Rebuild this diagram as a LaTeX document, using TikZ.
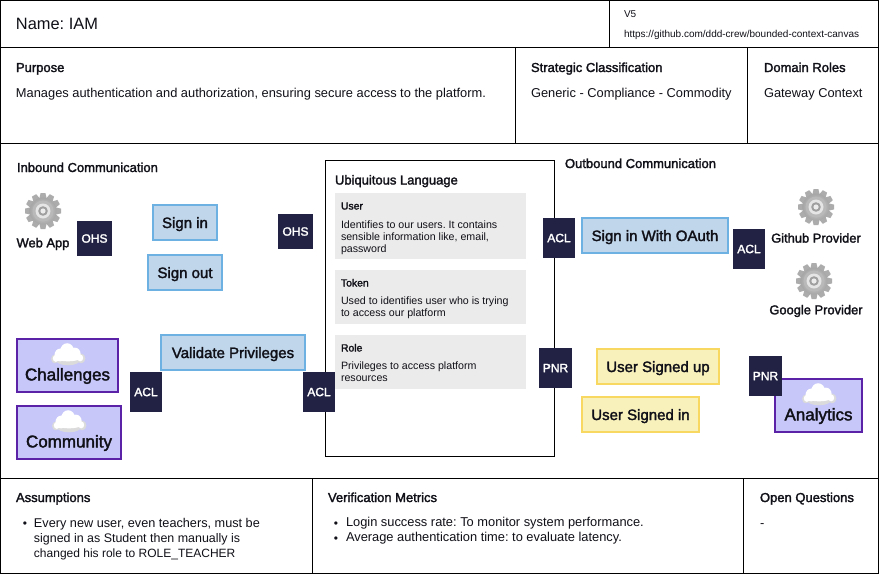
\documentclass[tikz,border=0pt]{standalone}
\usepackage{fontspec}
\setmainfont{Liberation Sans}
\newfontfamily\medfont[FakeBold=2]{Liberation Sans}
\definecolor{bluefill}{HTML}{C0D6EA}
\definecolor{blueline}{HTML}{6CB1E1}
\definecolor{yelfill}{HTML}{F9F1BC}
\definecolor{yelline}{HTML}{F9D862}
\definecolor{purfill}{HTML}{C7C7FA}
\definecolor{purline}{HTML}{5B21A6}
\definecolor{darkbox}{HTML}{222244}
\definecolor{cardgray}{HTML}{EBEBEB}
\definecolor{inkc}{HTML}{101018}
\newcommand{\fs}[2]{\frenchspacing\fontsize{#1}{#2}\selectfont}
\tikzset{
  x=1pt,y=-1pt,
  every node/.style={inner sep=0pt,outer sep=0pt,text=inkc},
  frame/.style={draw=black,line width=1pt},
  heading/.style={anchor=base west,font=\medfont\fs{13}{15}},
  plain/.style={anchor=base west,font=\fs{12.85}{15}},
  body/.style={anchor=north west,align=left,font=\fs{12.85}{15.2}},
  dot/.style={anchor=base,font=\fs{12}{12},text height=4,text depth=0},
  cardtitle/.style={anchor=base west,font=\medfont\fs{10.4}{13}},
  cardbody/.style={anchor=north west,align=left,font=\fs{10.65}{12}},
  card/.style={fill=cardgray,draw=none},
  tag/.style={fill=darkbox,draw=none,text=white,font=\medfont\fs{12}{14}},
  msgbox/.style={line width=2pt,font=\medfont\fs{15}{17},text height=12.5,text depth=1.5},
  bluebox/.style={msgbox,fill=bluefill,draw=blueline},
  yelbox/.style={msgbox,fill=yelfill,draw=yelline},
  purbox/.style={line width=2pt,fill=purfill,draw=purline},
  purlabel/.style={font=\medfont\fs{17}{19}},
  sysname/.style={font=\medfont\fs{12.9}{15}},
  pics/gear/.style={code={
    \foreach \a in {0,30,...,330}{
      \fill[rotate=\a,fill=#1] (-2.4,-18) -- (2.4,-18) -- (4,-11) -- (-4,-11) -- cycle;
    }
    \shade[inner color=gray!30,outer color=gray!70] (0,0) circle (13.5);
    \fill[gray!55] (0,0) circle (10.5);
    \fill[gray!20] (0,0) circle (7.5);
    \fill[gray!75] (0,0) circle (4.8);
    \fill[gray!15] (0,0) circle (2.6);
  }},
  pics/cloud/.style={code={
    \begin{scope}[xscale=0.87,yscale=0.98,yshift=-1pt]
    \fill[black!14] (-15,4) circle (4.5) (15,3.5) circle (5) (0,5) ellipse (14 and 5.5);
    \fill[white] (-9,0) circle (6.5) (-1,-4) circle (8) (8,-1) circle (6.5)
      (-14,3.5) circle (3.5) (14,3) circle (3.5) (0,3) ellipse (14 and 3.5);
    \end{scope}
  }}
}
\begin{document}
\begin{tikzpicture}
\useasboundingbox (0,0) rectangle (879,574);
\fill[white] (0,0) rectangle (879,574);
% frame
\draw[frame] (0.5,0.5) rectangle (878.5,573.5);
\draw[frame] (0,47.5) -- (879,47.5);
\draw[frame] (0,143.5) -- (879,143.5);
\draw[frame] (0,478.5) -- (879,478.5);
\draw[frame] (609.5,0) -- (609.5,47);
\draw[frame] (515.5,47) -- (515.5,143);
\draw[frame] (747.5,47) -- (747.5,143);
\draw[frame] (312.5,478) -- (312.5,574);
\draw[frame] (743.5,478) -- (743.5,574);
% header
\node[anchor=base west,font=\fs{16.4}{19}] (name) at (16,29.5) {Name: IAM};
\node[anchor=base west,font=\fs{10}{12}] (ver) at (624,17.5) {V5};
\node[anchor=base west,font=\fs{10}{12}] (url) at (624,37.5) {https://github.com/ddd-crew/bounded-context-canvas};
% row 2
\node[heading] (purpose) at (16,72) {Purpose};
\node[plain] (purposetxt) at (16,97) {Manages authentication and authorization, ensuring secure access to the platform.};
\node[heading] (strategic) at (531,72) {Strategic Classification};
\node[plain] (strategictxt) at (531,97) {Generic - Compliance - Commodity};
\node[heading] (roles) at (764,72) {Domain Roles};
\node[plain] (rolestxt) at (764,97) {Gateway Context};
% inbound
\node[heading] (inbound) at (17,172) {Inbound Communication};
\pic at (43,211) {gear=gray!65};
\node[sysname] (webapp) at (43,244) {Web App};
\node[tag,minimum width=35,minimum height=35] (ohsa) at (94.5,238.5) {OHS};
\node[tag,minimum width=35,minimum height=35] (ohsb) at (295.5,231.5) {OHS};
\node[bluebox,minimum width=64,minimum height=35] (signin) at (185,222.5) {Sign in};
\node[bluebox,minimum width=74,minimum height=35] (signout) at (185,272.5) {Sign out};
\node[bluebox,minimum width=144,minimum height=35] (validate) at (233,352.5) {Validate Privileges};
\node[purbox,minimum width=101,minimum height=53] (challengesbox) at (67.5,365.5) {};
\pic at (68,354) {cloud};
\node[purlabel] (challenges) at (67.5,376) {Challenges};
\node[purbox,minimum width=104,minimum height=53] (communitybox) at (69,432.5) {};
\pic at (69,421) {cloud};
\node[purlabel] (community) at (69,443) {Community};
\node[tag,minimum width=32,minimum height=40] (acla) at (146,392) {ACL};
% ubiquitous
\draw[frame] (325.5,160.5) rectangle (554.5,456.5);
\node[tag,minimum width=32,minimum height=40] (aclb) at (319,392) {ACL};
\node[anchor=base west,font=\medfont\fs{13}{15}] (ubi) at (335,184.5) {Ubiquitous Language};
\fill[card] (335,193) rectangle (526,259);
\fill[card] (335,270) rectangle (526,324);
\fill[card] (335,335) rectangle (526,389);
\node[cardtitle] (user) at (341,209.5) {User};
\node[cardbody] (usertxt) at (341,220.5) {Identifies to our users. It contains\\sensible information like, email,\\password};
\node[cardtitle] (token) at (341,286.5) {Token};
\node[cardbody] (tokentxt) at (341,297.2) {Used to identifies user who is trying\\to access our platform};
\node[cardtitle] (role) at (341,351.5) {Role};
\node[cardbody] (roletxt) at (341,362.2) {Privileges to access platform\\resources};
% outbound
\node[heading] (outbound) at (565,168) {Outbound Communication};
\node[tag,minimum width=32,minimum height=40] (aclc) at (559,238) {ACL};
\node[tag,minimum width=33,minimum height=40] (pnra) at (555.5,368) {PNR};
\node[bluebox,minimum width=146,minimum height=35] (oauth) at (655,235.5) {Sign in With OAuth};
\node[tag,minimum width=32,minimum height=40] (acld) at (749,249) {ACL};
\pic at (816,207) {gear=gray!65};
\node[sysname] (github) at (816,238) {Github Provider};
\pic at (814,281) {gear=gray!65};
\node[sysname] (google) at (816,311) {Google Provider};
\node[yelbox,minimum width=122,minimum height=35] (signedup) at (658,366.5) {User Signed up};
\node[yelbox,minimum width=117,minimum height=35] (signedin) at (640.5,414.5) {User Signed in};
\node[purbox,minimum width=87,minimum height=53] (analyticsbox) at (818.5,405.5) {};
\pic at (819,394) {cloud};
\node[purlabel] (analytics) at (818.5,416) {Analytics};
\node[tag,minimum width=33,minimum height=40] (pnrb) at (765.5,376) {PNR};
% bottom row
\node[heading] (assump) at (16,502) {Assumptions};
\node[dot] (bula) at (25,527.5) {•};
\node[body] (assumptxt) at (34,517.8) {\fontsize{12.7}{15.2}\selectfont Every new user, even teachers, must be\\\fontsize{12.44}{15.2}\selectfont signed in as Student then manually is\\\fontsize{12}{15.2}\selectfont changed his role to ROLE\_TEACHER};
\node[heading] (verif) at (328,502) {Verification Metrics};
\node[dot] (bulb) at (336,527.5) {•};
\node[dot] (bulc) at (336,542.5) {•};
\node[body] (verifa) at (346,517.5) {Login success rate: To monitor system performance.};
\node[body] (verifb) at (346,532.5) {Average authentication time: to evaluate latency.};
\node[heading] (open) at (760,502) {Open Questions};
\node[plain] (opentxt) at (760,527) {-};
\end{tikzpicture}
\end{document}
